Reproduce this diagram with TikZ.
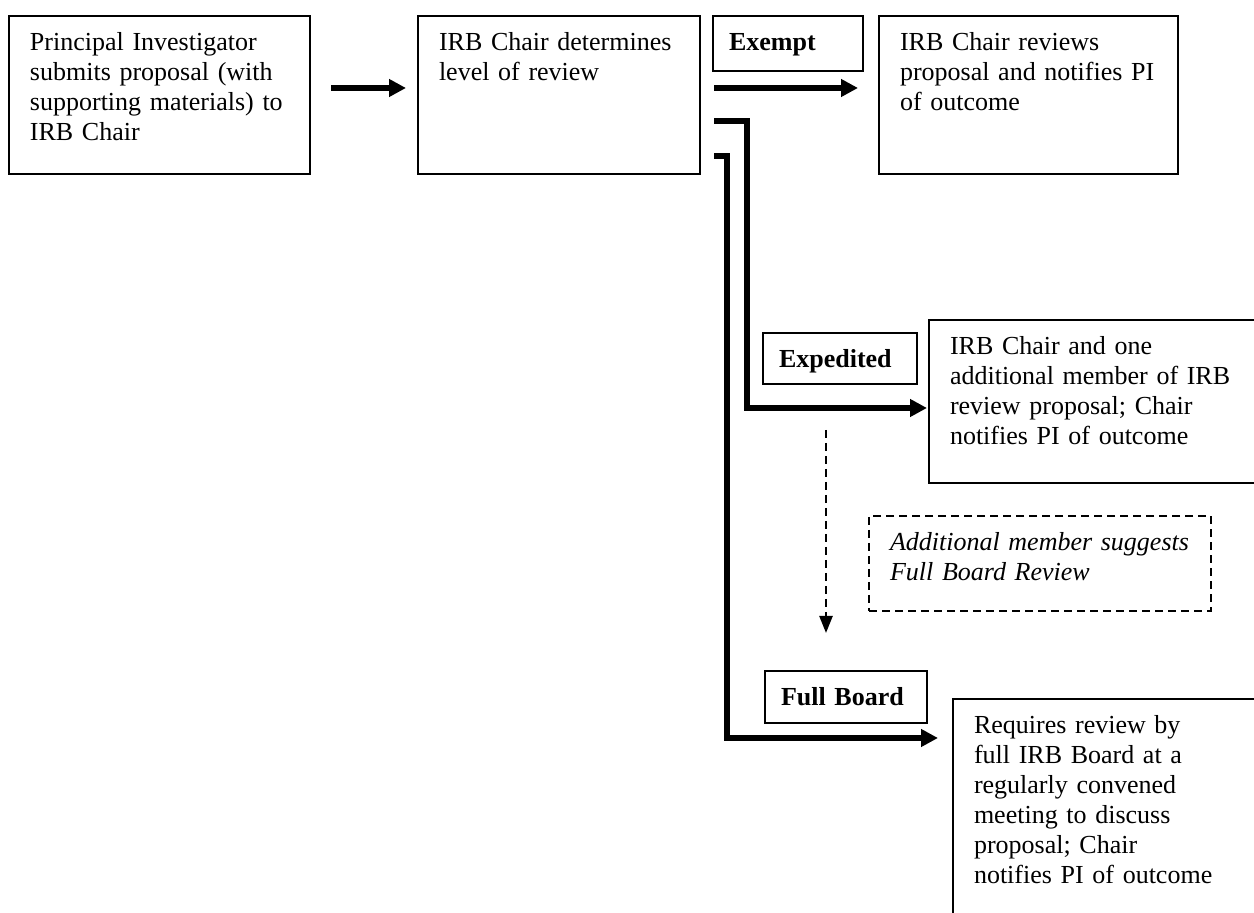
\documentclass[tikz,border=0pt]{standalone}
\usepackage{fontspec}
\setmainfont{Liberation Serif}
\usetikzlibrary{arrows.meta}

\begin{document}
\begin{tikzpicture}[x=0.5pt, y=-0.5pt,
    card/.style={draw, line width=1pt, anchor=north west, align=left,
      inner xsep=10.5pt, inner ysep=0pt, text height=17.5pt,
      font=\fontsize{13}{15}\selectfont},
    tag/.style={card, inner xsep=8pt, font=\fontsize{13}{15}\selectfont\bfseries},
    note/.style={card, dash pattern=on 4pt off 2.5pt, font=\fontsize{13}{15}\selectfont\itshape},
    flow/.style={line width=2.75pt, -{Triangle[length=8.5pt, width=8.5pt]}},
    suggest/.style={line width=1.2pt, dash pattern=on 4pt off 2.5pt, -{Triangle[length=8.5pt, width=6.5pt]}}]
        \useasboundingbox (0,0) rectangle (1254,913);

        \node [card, text width=129.5pt, text depth=61.5pt] (pi) at (8,15)
          {Principal Investigator\\submits proposal (with\\supporting materials) to\\IRB Chair};
        \node [card, text width=120pt, text depth=61.5pt] (irb) at (417,15)
          {IRB Chair determines\\level of review};
        \node [tag, text width=59pt, text depth=10pt] (exempt) at (712,15) {Exempt};
        \node [card, text width=128.5pt, text depth=61.5pt] (exout) at (878,15)
          {IRB Chair reviews\\proposal and notifies PI\\of outcome};

        \node [tag, text width=61pt, text depth=8pt] (expedited) at (762,332) {Expedited};
        \node [card, text width=150pt, text depth=64pt] (expout) at (928,319)
          {IRB Chair and one\\additional member of IRB\\review proposal; Chair\\notifies PI of outcome};
        \node [note, text width=150pt, text depth=30pt] (fbnote) at (868,515)
          {Additional member suggests\\Full Board Review};

        \node [tag, text width=65pt, text depth=8.5pt] (fbtag) at (764,670) {Full Board};
        \node [card, text width=138pt, text depth=98.5pt] (fbout) at (952,698)
          {Requires review by\\full IRB Board at a\\regularly convened\\meeting to discuss\\proposal; Chair\\notifies PI of outcome};

        % main flow
        \draw [flow] ([shift={(10pt,3.5pt)}]pi.east) -- ([shift={(-5.5pt,3.5pt)}]irb.west);
        \draw [flow] ([shift={(6.5pt,3.5pt)}]irb.east) -- ([shift={(-10pt,3.5pt)}]exout.west);
        \draw [flow] ([shift={(6.5pt,-13pt)}]irb.east) -- ++(16.5pt,0)
          |- ([shift={(-0.5pt,-3.25pt)}]expout.west);
        \draw [flow] ([shift={(6.5pt,-30.5pt)}]irb.east) -- ++(6.5pt,0)
          |- ([shift={(-7pt,-20pt)}]fbout.north west);

        % expedited may turn into full board
        \coordinate (dtop) at ([shift={(-7pt,-22.5pt)}]expedited.south);
        \coordinate (dbot) at (dtop |- fbtag.north);
        \draw [suggest] (dtop) -- ([yshift=18.5pt]dbot);
      \end{tikzpicture}
\end{document}
